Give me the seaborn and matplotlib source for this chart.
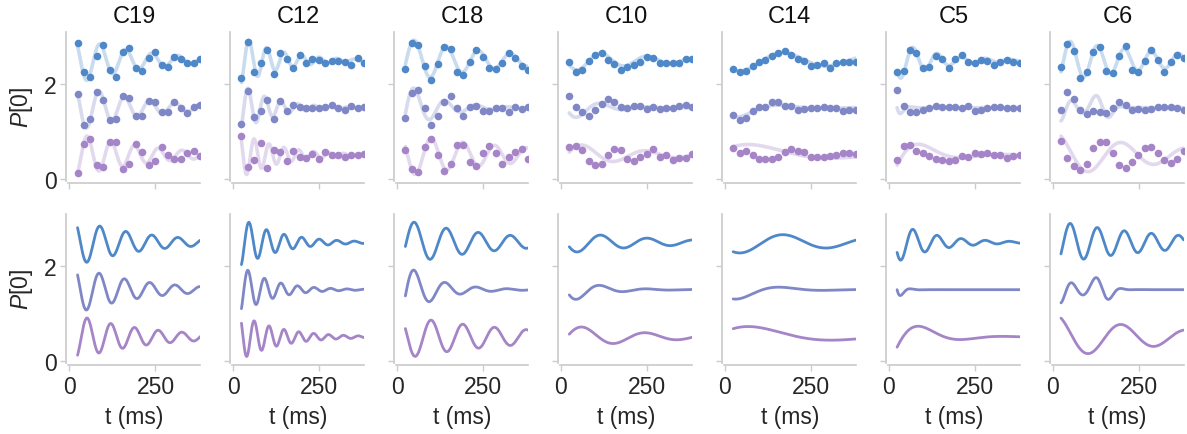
import numpy as np
import pandas as pd
import matplotlib
matplotlib.use("Agg")
import matplotlib.pyplot as plt
import seaborn as sns

# ---------------- data ----------------
PANELS = ["C19", "C12", "C18", "C10", "C14", "C5", "C6"]
T_MS = [24.0, 42.7, 61.5, 80.2, 98.9, 117.7, 136.4, 155.2, 173.9, 192.6,
        211.4, 230.1, 248.8, 267.6, 286.3, 305.1, 323.8, 342.5, 361.3, 380.0]
OFFSETS = [2.5, 1.5, 0.5]          # vertical offsets of the three series
COLORS = ["#4f88c9", "#7f87c6", "#a584c7"]

# measured points, [top series, middle series, bottom series]
P_C19 = [
    [2.86, 2.25, 2.15, 2.60, 2.82, 2.30, 2.15, 2.67, 2.77, 2.34, 2.27, 2.56, 2.68, 2.40, 2.35, 2.58, 2.54, 2.45, 2.44, 2.53],
    [1.78, 1.14, 1.26, 1.84, 1.67, 1.23, 1.26, 1.75, 1.71, 1.32, 1.33, 1.65, 1.63, 1.40, 1.40, 1.61, 1.50, 1.39, 1.51, 1.56],
    [0.12, 0.74, 0.84, 0.28, 0.25, 0.77, 0.77, 0.20, 0.32, 0.74, 0.56, 0.28, 0.37, 0.67, 0.51, 0.41, 0.41, 0.54, 0.58, 0.48],
]
P_C12 = [
    [2.12, 2.88, 2.25, 2.44, 2.72, 2.21, 2.65, 2.53, 2.34, 2.62, 2.44, 2.54, 2.51, 2.44, 2.48, 2.48, 2.47, 2.40, 2.56, 2.44],
    [1.16, 1.86, 1.31, 1.42, 1.66, 1.26, 1.65, 1.44, 1.56, 1.52, 1.49, 1.49, 1.49, 1.51, 1.56, 1.49, 1.46, 1.54, 1.49, 1.52],
    [0.90, 0.25, 0.40, 0.76, 0.22, 0.61, 0.56, 0.37, 0.58, 0.46, 0.44, 0.53, 0.42, 0.56, 0.51, 0.51, 0.46, 0.51, 0.51, 0.52],
]
P_C18 = [
    [2.32, 2.86, 2.82, 2.39, 2.09, 2.42, 2.79, 2.75, 2.26, 2.20, 2.46, 2.72, 2.58, 2.34, 2.32, 2.44, 2.65, 2.56, 2.39, 2.30],
    [1.28, 1.81, 1.87, 1.49, 1.14, 1.32, 1.61, 1.75, 1.49, 1.32, 1.51, 1.53, 1.44, 1.42, 1.49, 1.49, 1.40, 1.51, 1.47, 1.51],
    [0.60, 0.21, 0.15, 0.67, 0.83, 0.49, 0.16, 0.32, 0.72, 0.72, 0.36, 0.26, 0.54, 0.70, 0.55, 0.32, 0.45, 0.56, 0.62, 0.42],
]
P_C10 = [
    [2.46, 2.25, 2.30, 2.48, 2.62, 2.65, 2.51, 2.42, 2.30, 2.35, 2.40, 2.46, 2.58, 2.56, 2.44, 2.44, 2.44, 2.44, 2.53, 2.53],
    [1.74, 1.52, 1.40, 1.33, 1.46, 1.58, 1.68, 1.63, 1.52, 1.49, 1.53, 1.54, 1.47, 1.51, 1.47, 1.49, 1.49, 1.54, 1.56, 1.51],
    [0.67, 0.69, 0.60, 0.37, 0.28, 0.32, 0.49, 0.63, 0.60, 0.41, 0.37, 0.46, 0.53, 0.63, 0.46, 0.51, 0.39, 0.44, 0.44, 0.53],
]
P_C14 = [
    [2.32, 2.25, 2.28, 2.39, 2.46, 2.51, 2.60, 2.65, 2.69, 2.62, 2.54, 2.48, 2.39, 2.40, 2.44, 2.34, 2.44, 2.46, 2.47, 2.47],
    [1.35, 1.23, 1.28, 1.42, 1.51, 1.51, 1.63, 1.63, 1.54, 1.53, 1.46, 1.47, 1.49, 1.49, 1.51, 1.49, 1.49, 1.44, 1.46, 1.46],
    [0.65, 0.55, 0.58, 0.51, 0.42, 0.41, 0.41, 0.46, 0.56, 0.62, 0.58, 0.56, 0.46, 0.46, 0.46, 0.48, 0.51, 0.54, 0.54, 0.53],
]
P_C5 = [
    [2.25, 2.28, 2.72, 2.65, 2.34, 2.36, 2.60, 2.53, 2.33, 2.54, 2.61, 2.46, 2.44, 2.51, 2.48, 2.41, 2.46, 2.51, 2.46, 2.44],
    [1.87, 1.54, 1.40, 1.40, 1.45, 1.49, 1.54, 1.51, 1.52, 1.51, 1.49, 1.53, 1.44, 1.46, 1.49, 1.51, 1.51, 1.50, 1.49, 1.49],
    [0.39, 0.68, 0.72, 0.58, 0.55, 0.48, 0.42, 0.39, 0.37, 0.40, 0.47, 0.46, 0.54, 0.53, 0.54, 0.49, 0.51, 0.44, 0.48, 0.49],
]
P_C6 = [
    [2.35, 2.84, 2.69, 2.13, 2.26, 2.67, 2.79, 2.28, 2.23, 2.60, 2.81, 2.29, 2.25, 2.48, 2.72, 2.51, 2.26, 2.46, 2.61, 2.55],
    [1.45, 1.84, 1.68, 1.45, 1.37, 1.44, 1.40, 1.38, 1.49, 1.61, 1.56, 1.46, 1.47, 1.46, 1.47, 1.51, 1.51, 1.52, 1.49, 1.45],
    [0.79, 0.44, 0.26, 0.19, 0.32, 0.65, 0.77, 0.77, 0.55, 0.29, 0.22, 0.36, 0.51, 0.65, 0.67, 0.54, 0.40, 0.34, 0.42, 0.58],
]
POINTS = {"C19": P_C19, "C12": P_C12, "C18": P_C18, "C10": P_C10,
          "C14": P_C14, "C5": P_C5, "C6": P_C6}

# fitted damped-oscillation parameters
FIT_AMP = {"C19": [0.55, 0.57, 0.52], "C12": [0.64, 0.66, 0.58], "C18": [0.515, 0.71, 0.48],
           "C10": [0.245, 0.35, 0.28], "C14": [0.25, 0.30, 0.33], "C5": [0.51, 1.32, 0.68],
           "C6": [0.47, 0.46, 0.48]}
FIT_TAU = {"C19": [190, 177, 200], "C12": [112, 90, 115], "C18": [265, 91, 333],
           "C10": [250, 85, 217], "C14": [400, 95, 202], "C5": [114, 15, 85],
           "C6": [320, 48, 334]}
FIT_PERIOD = {"C19": [75.5, 73.4, 68.8], "C12": [51, 48, 43.2], "C18": [93, 90, 92],
              "C10": [135, 135, 184], "C14": [250, 250, 480], "C5": [70, 56, 243],
              "C6": [78.5, 64, 190]}
FIT_TPEAK = {"C19": [13.5, 13.6, 52], "C12": [46, 43, 61], "C18": [50, 50, 99],
             "C10": [116, 116, 63], "C14": [172, 172, 95], "C5": [70.5, 66, 101.5],
             "C6": [51, 56, 200]}
# second (gaussian-envelope) component of the C6 middle fit: amp, centre, width, period, peak
C6_MID_EXTRA = [0.27, 142, 40, 86, 124]


def fit_curve(panel, i, t):
    a, tau = FIT_AMP[panel][i], FIT_TAU[panel][i]
    per, tp = FIT_PERIOD[panel][i], FIT_TPEAK[panel][i]
    y = OFFSETS[i] + a * np.exp(-t / tau) * np.cos(2 * np.pi * (t - tp) / per)
    if panel == "C6" and i == 1:
        a2, tc, w, per2, tp2 = C6_MID_EXTRA
        y = y + a2 * np.exp(-((t - tc) / w) ** 2) * np.cos(2 * np.pi * (t - tp2) / per2)
    return y


# ---------------- style ----------------
sns.set_theme(style="ticks")
plt.rcParams["font.family"] = ["Liberation Sans", "DejaVu Sans"]
plt.rcParams.update({
    "mathtext.fontset": "custom",
    "mathtext.it": "Liberation Sans:italic",
    "mathtext.rm": "Liberation Sans",
    "axes.edgecolor": "#cccccc",
    "xtick.color": "#cccccc",
    "ytick.color": "#cccccc",
    "xtick.labelcolor": "#262626",
    "ytick.labelcolor": "#262626",
    "axes.labelcolor": "#262626",
    "text.color": "#111111",
})
FS = 16.5

fig, axes = plt.subplots(2, 7, figsize=(11.87, 4.35), dpi=100)
fig.subplots_adjust(left=0.0575, right=0.9972, bottom=0.1632, top=0.9241,
                    wspace=0.2417, hspace=0.2215)

t_arr = np.array(T_MS)
t_fit = np.linspace(T_MS[0], T_MS[-1], 600)

for j, panel in enumerate(PANELS):
    ax_t, ax_b = axes[0, j], axes[1, j]
    for i in range(3):
        yfit = fit_curve(panel, i, t_fit)
        df_fit = pd.DataFrame({"t": t_fit, "p": yfit})
        df_pts = pd.DataFrame({"t": t_arr, "p": POINTS[panel][i]})
        sns.lineplot(data=df_fit, x="t", y="p", ax=ax_t, color=COLORS[i],
                     alpha=0.3, linewidth=2.6)
        sns.scatterplot(data=df_pts, x="t", y="p", ax=ax_t, color=COLORS[i],
                        s=30, linewidth=0, zorder=3)
        sns.lineplot(data=df_fit, x="t", y="p", ax=ax_b, color=COLORS[i],
                     linewidth=2.0)
    for r, ax in enumerate((ax_t, ax_b)):
        ax.set_xlim(-3, 380)
        ax.set_ylim(-0.05, 3.1)
        ax.set_xticks([0, 250])
        ax.set_yticks([0, 2])
        ax.tick_params(length=4, width=1, labelsize=FS, pad=3)
        ax.set_xlabel("")
        ax.set_ylabel("")
        sns.despine(ax=ax, offset=1.5)
        if j > 0:
            ax.tick_params(labelleft=False)
        else:
            ax.set_ylabel("$P$[0]", fontsize=FS, labelpad=6)
        if r == 0:
            ax.tick_params(labelbottom=False)
        else:
            ax.set_xlabel("t (ms)", fontsize=FS, labelpad=5)
    ax_t.set_title(panel, fontsize=FS + 0.5, pad=7)

fig.savefig("out.png", dpi=100)
